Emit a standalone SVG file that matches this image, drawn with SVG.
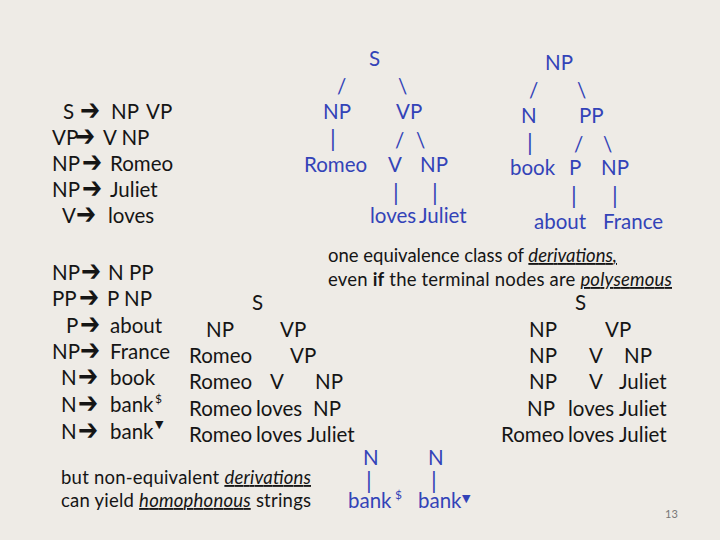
<svg xmlns="http://www.w3.org/2000/svg" width="720" height="540" viewBox="0 0 720 540">
<style>
text{font-family:Lato,"Liberation Sans",sans-serif;font-size:20.5px}
.k{fill:#151515}
.b{fill:#3343b8}
.a{font-family:"DejaVu Sans",sans-serif;font-size:30px;font-weight:bold;fill:#151515}
.s{font-size:18.5px;fill:#151515}
.u{font-style:italic;text-decoration:underline}
.sup{font-size:12px}
.tri{font-family:"DejaVu Sans",sans-serif;font-size:11px}
.bar{font-size:23px}
.pg{font-size:11px;fill:#777}
</style>
<rect width="720" height="540" fill="#eeebe6"/>

<g id="rules-top" class="k">
<text x="63" y="119">S</text><text class="a" transform="translate(80,120) scale(0.8,1)">➔</text><text x="111" y="119">NP</text><text x="146" y="119">VP</text>
<text x="52" y="145">VP</text><text class="a" transform="translate(75,146) scale(0.8,1)">➔</text><text x="103" y="145">V NP</text>
<text x="52" y="171">NP</text><text class="a" transform="translate(82,172) scale(0.8,1)">➔</text><text x="110" y="171">Romeo</text>
<text x="52" y="197">NP</text><text class="a" transform="translate(82,198) scale(0.8,1)">➔</text><text x="110" y="197">Juliet</text>
<text x="62" y="223">V</text><text class="a" transform="translate(76,224) scale(0.8,1)">➔</text><text x="108" y="223">loves</text>
</g>

<g id="rules-bottom" class="k">
<text x="52" y="280">NP</text><text class="a" transform="translate(81,281) scale(0.8,1)">➔</text><text x="108" y="280">N PP</text>
<text x="52" y="306">PP</text><text class="a" transform="translate(79,307) scale(0.8,1)">➔</text><text x="107" y="306">P NP</text>
<text x="66" y="333">P</text><text class="a" transform="translate(80,334) scale(0.8,1)">➔</text><text x="110" y="333">about</text>
<text x="52" y="359">NP</text><text class="a" transform="translate(80,360) scale(0.8,1)">➔</text><text x="110" y="359">France</text>
<text x="61" y="385">N</text><text class="a" transform="translate(78,386) scale(0.8,1)">➔</text><text x="110" y="385">book</text>
<text x="61" y="412">N</text><text class="a" transform="translate(78,413) scale(0.8,1)">➔</text><text x="110" y="412">bank</text><text class="sup" x="155" y="403">$</text>
<text x="61" y="439">N</text><text class="a" transform="translate(78,440) scale(0.8,1)">➔</text><text x="110" y="439">bank</text><text class="tri" x="155" y="428">▼</text>
</g>

<g id="derivation-middle" class="k">
<text x="252" y="310">S</text>
<text x="206" y="337">NP</text><text x="280" y="337">VP</text>
<text x="189" y="363">Romeo</text><text x="290" y="363">VP</text>
<text x="189" y="389">Romeo</text><text x="270" y="389">V</text><text x="315" y="389">NP</text>
<text x="189" y="416">Romeo</text><text x="256" y="416">loves</text><text x="313" y="416">NP</text>
<text x="189" y="442">Romeo</text><text x="256" y="442">loves</text><text x="307" y="442">Juliet</text>
</g>

<g id="derivation-right" class="k">
<text x="575" y="310">S</text>
<text x="529" y="337">NP</text><text x="605" y="337">VP</text>
<text x="529" y="363">NP</text><text x="589" y="363">V</text><text x="624" y="363">NP</text>
<text x="529" y="389">NP</text><text x="589" y="389">V</text><text x="619" y="389">Juliet</text>
<text x="527" y="416">NP</text><text x="568" y="416">loves</text><text x="619" y="416">Juliet</text>
<text x="501" y="442">Romeo</text><text x="568" y="442">loves</text><text x="619" y="442">Juliet</text>
</g>

<g id="caption-top">
<text class="s" x="328" y="262" textLength="289">one equivalence class of <tspan class="u">derivations,</tspan></text>
<text class="s" x="328" y="286" textLength="344">even <tspan font-weight="bold">if</tspan> the terminal nodes are <tspan class="u">polysemous</tspan></text>
</g>

<g id="caption-bottom">
<text class="s" x="61" y="484" textLength="250">but non-equivalent <tspan class="u">derivations</tspan></text>
<text class="s" x="61" y="507" textLength="250">can yield <tspan class="u">homophonous</tspan> strings</text>
</g>

<g id="tree-sentence" class="b">
<text x="369" y="66">S</text>
<text x="323" y="119">NP</text><text x="396" y="119">VP</text>
<text x="304" y="172">Romeo</text><text x="388" y="172">V</text><text x="420" y="172">NP</text>
<text x="370" y="223">loves</text><text x="419" y="223">Juliet</text>
</g>

<g id="tree-np" class="b">
<text x="545" y="70">NP</text>
<text x="521" y="123">N</text><text x="579" y="123">PP</text>
<text x="510" y="175">book</text><text x="569" y="175">P</text><text x="601" y="175">NP</text>
<text x="534" y="229">about</text><text x="603" y="229">France</text>
</g>

<g id="tree-bank" class="b">
<text x="363" y="465">N</text><text x="428" y="465">N</text>
<text x="348" y="508">bank</text><text class="sup" x="395" y="499">$</text>
<text x="418" y="508">bank</text><text class="tri" x="462" y="502">▼</text>
</g>

<g id="connectors" class="b">
<text x="337" y="94">/</text><text x="398" y="94">\</text>
<text class="bar" x="330" y="147">|</text><text x="395" y="148">/</text><text x="416" y="148">\</text>
<text class="bar" x="393" y="201">|</text><text class="bar" x="432" y="201">|</text>
<text x="529" y="98">/</text><text x="577" y="98">\</text>
<text class="bar" x="527" y="151">|</text><text x="574" y="152">/</text><text x="603" y="152">\</text>
<text class="bar" x="571" y="204">|</text><text class="bar" x="612" y="204">|</text>
<text class="bar" x="366" y="489">|</text><text class="bar" x="431" y="489">|</text>
</g>

<text class="pg" x="665" y="518">13</text>
</svg>
